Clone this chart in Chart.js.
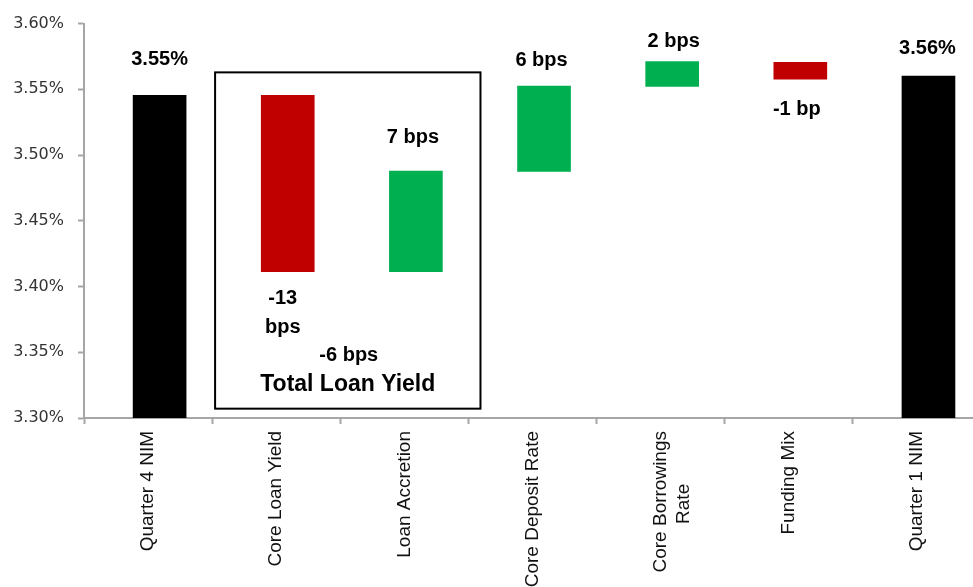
<!DOCTYPE html>
<html><head><meta charset="utf-8">
<script src="https://cdn.jsdelivr.net/npm/chart.js@4.4.1/dist/chart.umd.min.js"></script>
<style>
html,body{margin:0;padding:0;overflow:hidden;background:#fff;width:973px;height:587px}
#wrap{width:981px;height:587px;position:relative}
canvas{display:block}
</style></head>
<body><div id="wrap"><canvas id="c" width="981" height="587" style="width:981px;height:587px"></canvas></div>
<script>
// ---- data ----
const categories = ['Quarter 4 NIM', 'Core Loan Yield', 'Loan Accretion', 'Core Deposit Rate', ['Core Borrowings', 'Rate'], 'Funding Mix', 'Quarter 1 NIM'];
const barStart = [3.30, 3.4114, 3.4114, 3.4876, 3.5523, 3.5578, 3.30];
const barEnd   = [3.5454, 3.5454, 3.4879, 3.5524, 3.5711, 3.5705, 3.5600];
const barKind  = ['total', 'down', 'up', 'up', 'up', 'down', 'total'];
const barLabels = ['3.55%', ['-13', 'bps'], '7 bps', '6 bps', '2 bps', '-1 bp', '3.56%'];
const groupChange = '-6 bps';
const groupTitle = 'Total Loan Yield';
const yTicks = [3.30, 3.35, 3.40, 3.45, 3.50, 3.55, 3.60];

// ---- styling ----
const kindColor = {total: '#000000', up: '#00B050', down: '#C00000'};
const labelNudge = [[0, 36], [-5, 27], [-3, 33], [-2.5, 26], [1.5, 20], [-3.5, 30], [-1, 28]]; // [dx, distance from bar edge]
const xLabelFont = '19px "Liberation Sans", Arial, sans-serif';
const axisGray = '#a6a6a6';

function centerLines(lines) {
  if (!Array.isArray(lines)) return lines;
  const c = document.createElement('canvas').getContext('2d');
  c.font = xLabelFont;
  const W = Math.max(...lines.map(l => c.measureText(l).width));
  const sp = c.measureText(' ').width;
  return lines.map(l => l + ' '.repeat(Math.round((W - c.measureText(l).width) / 2 / sp)));
}

const labelPlugin = {
  id: 'wfLabels',
  afterDatasetsDraw(chart) {
    const ctx = chart.ctx;
    const meta = chart.getDatasetMeta(0);
    const xs = chart.scales.x2, ys = chart.scales.y;
    ctx.save();
    ctx.fillStyle = '#000';
    ctx.textAlign = 'center';
    ctx.textBaseline = 'middle';
    ctx.font = 'bold 20px "Liberation Sans", Arial, sans-serif';
    meta.data.forEach((bar, i) => {
      const p = bar.getProps(['x', 'y', 'base'], true);
      const top = Math.min(p.y, p.base), bottom = Math.max(p.y, p.base);
      const [dx, d] = labelNudge[i];
      const lines = [].concat(barLabels[i]);
      const below = barKind[i] === 'down';
      const cy = below ? bottom + d : top - d - (lines.length - 1) * 29;
      lines.forEach((t, k) => ctx.fillText(t, p.x + dx, cy + k * 29));
    });
    // group box around the loan-yield components
    const bx0 = xs.getPixelForValue(0.433), bx1 = xs.getPixelForValue(2.504);
    const by0 = ys.getPixelForValue(3.5629), by1 = ys.getPixelForValue(3.3071);
    ctx.strokeStyle = '#000';
    ctx.lineWidth = 2;
    ctx.strokeRect(bx0, by0, bx1 - bx0, by1 - by0);
    const cx = (bx0 + bx1) / 2;
    ctx.fillText(groupChange, cx + 1, by1 - 53);
    ctx.font = 'bold 23px "Liberation Sans", Arial, sans-serif';
    ctx.fillText(groupTitle, cx, by1 - 24);
    ctx.restore();
  }
};

new Chart(document.getElementById('c'), {
  type: 'bar',
  data: {
    labels: categories,
    datasets: [{
      xAxisID: 'x2',
      data: categories.map((_, i) => ({x: i, y: [barStart[i], barEnd[i]]})),
      backgroundColor: barKind.map(k => kindColor[k]),
      borderWidth: 0,
      barThickness: 53
    }]
  },
  options: {
    responsive: false,
    animation: false,
    layout: {padding: {top: 17.5, left: 0, right: 0, bottom: 0}},
    plugins: {legend: {display: false}, tooltip: {enabled: false}},
    scales: {
      x: {
        type: 'category',
        offset: true,
        grid: {offset: true, drawOnChartArea: false, color: axisGray, tickLength: 6, tickWidth: 2},
        border: {color: axisGray, width: 2},
        ticks: {
          autoSkip: false, minRotation: 90, maxRotation: 90, padding: 7,
          color: '#111', font: {family: '"Liberation Sans", Arial, sans-serif', size: 19},
          callback: (v, i) => centerLines(categories[i])
        },
        afterFit: s => { s.height = 169; }
      },
      x2: {
        type: 'linear', display: false, offset: false,
        min: -0.59, max: 6.41
      },
      y: {
        type: 'linear', min: 3.30, max: 3.60,
        afterBuildTicks: s => { s.ticks = yTicks.map(v => ({value: v})); },
        grid: {drawOnChartArea: false, color: axisGray, tickLength: 6, tickWidth: 2},
        border: {color: axisGray, width: 2},
        ticks: {
          padding: 14, color: '#333333',
          font: {family: '"DejaVu Sans", Verdana, sans-serif', size: 16},
          callback: v => v.toFixed(2) + '%'
        },
        afterFit: s => { s.width = 84; }
      }
    }
  },
  plugins: [labelPlugin]
});
</script>
</body></html>
